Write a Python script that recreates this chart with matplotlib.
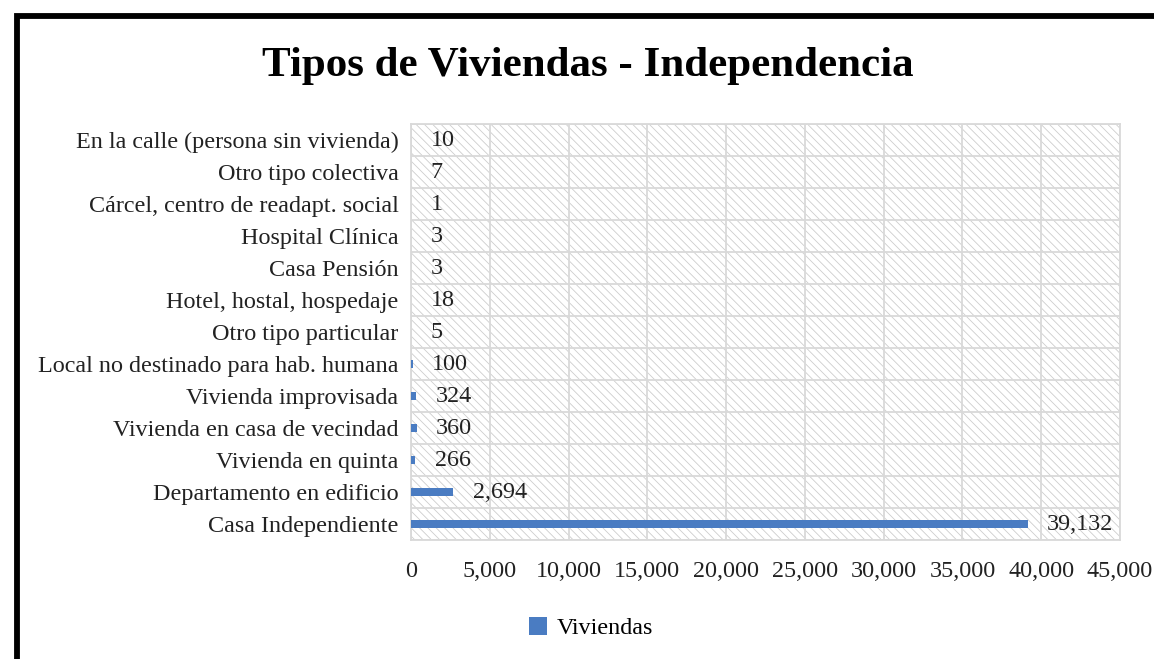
import numpy as np
import matplotlib
matplotlib.use("Agg")
import matplotlib.pyplot as plt
from matplotlib.patches import Rectangle
from matplotlib.ticker import FuncFormatter, MultipleLocator

plt.rcParams['font.family'] = ['Liberation Serif', 'DejaVu Serif']
plt.rcParams['hatch.linewidth'] = 0.6

# data, bottom row first
categories = [
    "Casa Independiente",
    "Departamento en edificio",
    "Vivienda en quinta",
    "Vivienda en casa de vecindad",
    "Vivienda improvisada",
    "Local no destinado para hab. humana",
    "Otro tipo particular",
    "Hotel, hostal, hospedaje",
    "Casa Pensión",
    "Hospital Clínica",
    "Cárcel, centro de readapt. social",
    "Otro tipo colectiva",
    "En la calle (persona sin vivienda)",
]
values = [39132, 2694, 266, 360, 324, 100, 5, 18, 3, 3, 1, 7, 10]
series_name = "Viviendas"
title = "Tipos de Viviendas - Independencia"

bar_color = "#4a7cc2"
grid_color = "#d9d9d9"
fs = 17.4

fig = plt.figure(figsize=(11.54, 6.59), dpi=100)
ax = fig.add_axes([411 / 1154, 1 - 540 / 659, (1120 - 411) / 1154, (540 - 124) / 659])

# hatched plot area background
bg = Rectangle((0, 0), 1, 1, transform=ax.transAxes, facecolor="white",
               edgecolor="#cdcdcd", linewidth=0, hatch="\\\\\\\\", zorder=0)
ax.add_patch(bg)
ax.set_facecolor("white")

y = np.arange(len(categories))
ax.barh(y, values, height=0.28, color=bar_color, zorder=3, label=series_name)

for yi, v in zip(y, values):
    ax.annotate(f"{v:,}", (v, yi), xytext=(14, 0), textcoords="offset points",
                va="center", ha="left", fontsize=fs, color="#222222", zorder=4)

ax.set_xlim(0, 45000)
ax.set_ylim(-0.5, len(categories) - 0.5)
ax.xaxis.set_major_locator(MultipleLocator(5000))
ax.xaxis.set_major_formatter(FuncFormatter(lambda x, p: f"{int(x):,}"))
ax.set_yticks(y)
ax.set_yticklabels(categories)
ax.set_yticks(np.arange(-0.5, len(categories), 1), minor=True)

ax.grid(axis="x", which="major", color=grid_color, linewidth=1.3, zorder=1)
ax.grid(axis="y", which="minor", color=grid_color, linewidth=1.3, zorder=1)
ax.set_axisbelow(True)

ax.tick_params(axis="both", which="both", length=0, labelsize=fs, colors="#222222")
ax.tick_params(axis="y", pad=9)
ax.tick_params(axis="x", pad=15)
for s in ax.spines.values():
    s.set_color(grid_color)
    s.set_linewidth(1.3)

fig.text(588 / 1154, 1 - 76 / 659, title, ha="center", va="baseline",
         fontsize=31, fontweight="bold", color="black")

leg = fig.legend(loc="center", bbox_to_anchor=(591 / 1154, 1 - 628 / 659),
                 frameon=False, fontsize=fs, handlelength=0.75, handleheight=0.75,
                 handletextpad=0.4)

# thick black frame (top and left edges visible)
frame = Rectangle((16.5 / 1154, -0.2), 1.2, 1 - 16.5 / 659 + 0.2,
                  transform=fig.transFigure, fill=False, edgecolor="black",
                  linewidth=4.2, clip_on=False)
fig.add_artist(frame)

fig.savefig("out.png", dpi=100)
